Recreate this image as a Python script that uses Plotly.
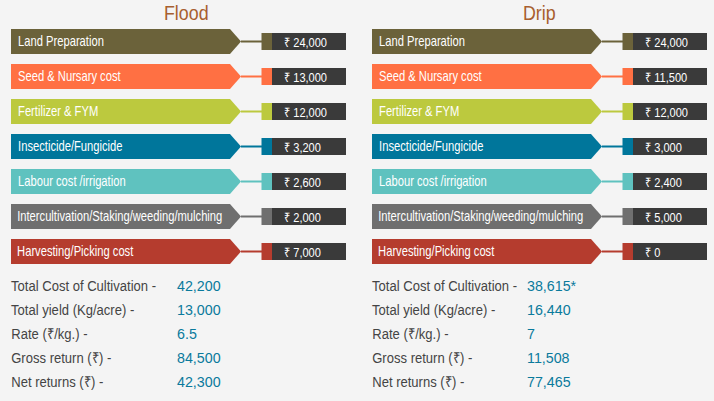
import plotly.graph_objects as go

# data
categories = ["Land Preparation", "Seed & Nursary cost", "Fertilizer & FYM", "Insecticide/Fungicide",
              "Labour cost /irrigation", "Intercultivation/Staking/weeding/mulching", "Harvesting/Picking cost"]
flood_costs = [24000, 13000, 12000, 3200, 2600, 2000, 7000]
drip_costs = [24000, 11500, 12000, 3000, 2400, 5000, 0]
summary_labels = ["Total Cost of Cultivation -", "Total yield (Kg/acre) -", "Rate (₹/kg.) -",
                  "Gross return (₹) -", "Net returns (₹) -"]
flood_summary = ["42,200", "13,000", "6.5", "84,500", "42,300"]
drip_summary = ["38,615*", "16,440", "7", "11,508", "77,465"]

colors = ["#6b623a", "#ff7043", "#bcc93e", "#00769b", "#5fc2bf", "#6f6f6f", "#b53c2e"]
FONT = "Liberation Sans, sans-serif"

fig = go.Figure()
shapes = []
annotations = []


def add_text(x, y, text, size, color, anchor="left"):
    annotations.append(dict(x=x, y=y, xref="x", yref="y", text=text, showarrow=False, borderpad=0,
                            xanchor=anchor, yanchor="middle", font=dict(family=FONT, size=size, color=color)))


def add_panel(left, title, title_x, value_x, costs, summary):
    add_text(title_x, 12, title, 21, "#a85f2f", anchor="center")
    for i, (name, cost, color) in enumerate(zip(categories, costs, colors)):
        top = 29 + i * 35
        mid = top + 12.5
        # arrow label
        path = (f"M {left} {top} L {left + 219} {top} L {left + 230} {mid} "
                f"L {left + 219} {top + 25} L {left} {top + 25} Z")
        shapes.append(dict(type="path", path=path, fillcolor=color, line_width=0, layer="below"))
        # connector, colour swatch, dark value box
        shapes.append(dict(type="line", x0=left + 230, x1=left + 251, y0=mid, y1=mid,
                           line=dict(color=color, width=2)))
        shapes.append(dict(type="rect", x0=left + 250.5, x1=left + 261, y0=top + 4, y1=top + 21,
                           fillcolor=color, line_width=0))
        shapes.append(dict(type="rect", x0=left + 261, x1=left + 335, y0=top + 4, y1=top + 21,
                           fillcolor="#3a3a3a", line_width=0))
        text_x = left + (5 if i >= 5 else 5.5)
        add_text(text_x, mid - 0.5, name, 14, "#ffffff")
        add_text(left + 272, mid + 0.5, f"₹ {cost:,}", 13, "#ffffff")
    for i, (label, val) in enumerate(zip(summary_labels, summary)):
        y = 285 + i * 24
        add_text(left - 1, y, label, 15, "#444444")
        add_text(value_x - 1, y, val, 15.5, "#0a7a9c")


add_panel(11, "Flood", 186, 177, flood_costs, flood_summary)
add_panel(372, "Drip", 539, 527, drip_costs, drip_summary)

fig.update_layout(
    width=714,
    height=401,
    margin=dict(l=0, r=0, t=0, b=0),
    paper_bgcolor="#f4f4f4",
    plot_bgcolor="#f4f4f4",
    showlegend=False,
    shapes=shapes,
    annotations=annotations,
    xaxis=dict(range=[0, 714], visible=False, fixedrange=True),
    yaxis=dict(range=[401, 0], visible=False, fixedrange=True),
)

# no narrow font is installed, so squeeze the text sideways; also drop the page margin
post_script = """
document.body.style.margin = '0';
var squeeze = {'14': 0.8, '13': 0.85, '21': 0.85, '15': 0.87, '15.5': 0.92};
document.querySelectorAll('.annotation-text').forEach(function (t) {
    var size = parseFloat(t.style.fontSize);
    var box = t.getBBox();
    var ox = size === 21 ? box.x + box.width / 2 : box.x;
    t.setAttribute('transform', 'translate(' + ox + ',0) scale(' + squeeze[size] + ',1) translate(' + (-ox) + ',0)');
});
"""
fig.write_html("out.html", config=dict(displayModeBar=False), post_script=post_script)
